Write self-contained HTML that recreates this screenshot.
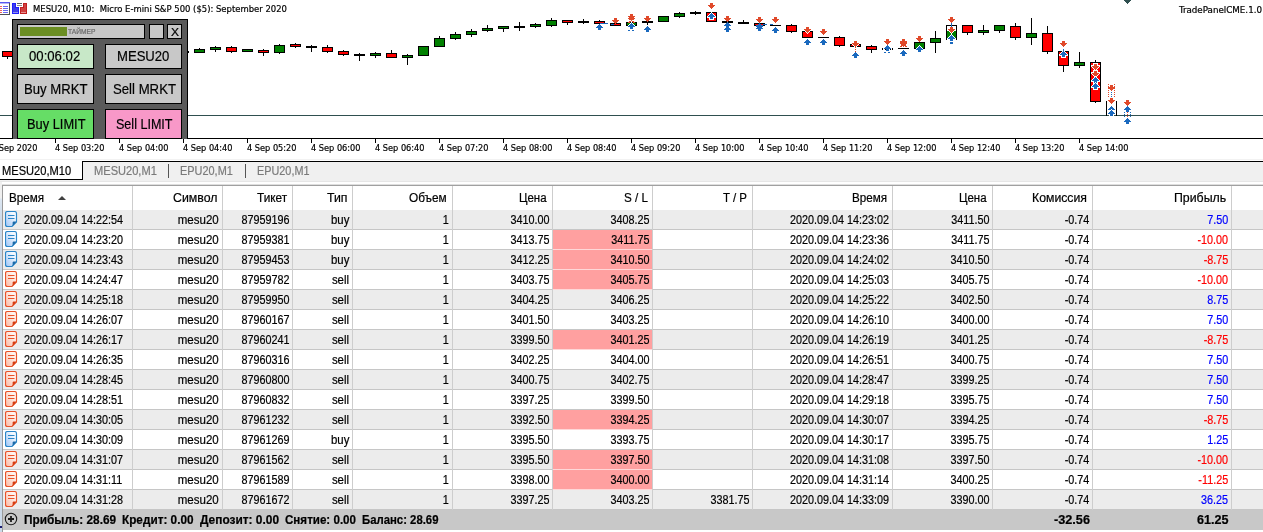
<!DOCTYPE html>
<html lang="ru"><head><meta charset="utf-8"><title>MESU20 M10</title><style>
html,body{margin:0;padding:0;background:#fff}
body{width:1263px;height:532px;position:relative;overflow:hidden;font-family:'Liberation Sans',sans-serif}
.chart{position:absolute;left:0;top:0}
.t{position:absolute;white-space:pre;transform-origin:0 50%}
.panel{position:absolute;left:12px;top:19px;width:174px;height:119px;background:#5a5a5a;border:1px solid #000;border-bottom:none;overflow:hidden}
.panel .b{position:absolute;border:1px solid #000}
.panel .bar{position:absolute;left:2px;top:2px;width:47px;height:9px;background:#6b8e23}
.tabs{position:absolute;left:0;top:159px;width:1263px;height:22px;background:#f0f0f0;border-top:1px solid #f2f2f2;box-sizing:border-box}
.tabs:before{content:"";position:absolute;left:0;top:0;width:1263px;height:1px;background:#fff}
.tabs:after{content:"";position:absolute;left:82px;top:1px;width:1181px;height:1px;background:#000}
.tabact{position:absolute;left:0;top:161px;width:82px;height:18px;background:#fff;border-right:1px solid #000;border-bottom:1px solid #000}
.sep{position:absolute;top:164px;width:1px;height:14px;background:#555}
.tbl{position:absolute;left:0;top:0;width:1263px;height:532px;pointer-events:none}
.tbl i.l1{position:absolute;left:0;top:181px;width:1263px;height:1px;background:#e6e6e6}
.tbl i.l2{position:absolute;left:2px;top:184px;width:1261px;height:1px;background:#dedede}
.tbl:before{content:"";position:absolute;left:2px;top:185px;width:1261px;height:1px;background:#a0a0a0}
.tbl:after{content:"";position:absolute;left:2px;top:185px;width:1px;height:347px;background:#9a9a9a}
.r{position:absolute;left:3px;width:1260px;height:19px;background:#fff;border-bottom:1px solid #c6c6c6}
.r.g{background:#ececec}
.pk{position:absolute;left:553px;width:99px;height:19px;background:#ffa0a0;border-bottom:1px solid #ffd8d8}
.cd{position:absolute;top:186px;width:1px;height:324px;background:#cdcdcd}
.sum{position:absolute;left:3px;top:510px;width:1260px;height:20px;background:#c8c8c8}
.c{position:absolute;white-space:pre;font:12px/20px 'Liberation Sans',sans-serif;transform-origin:100% 50%;-webkit-text-stroke:0.2px currentColor}
.c.l{transform-origin:0 50%}
.ico{position:absolute;left:5px}
.sort{position:absolute;left:58px;top:196px}
.plus{position:absolute;left:4px;top:512px}
.edge{position:absolute;left:0;top:181px;width:2px;height:351px;background:linear-gradient(#f0f0f0 0,#f0f0f0 17px,#dde7f2 18px,#ccdaea 40px,#ccdaea 100%)}
.edge:after{content:"";position:absolute;left:0;top:345px;width:2px;height:2px;background:#1a1a70}
</style></head><body>
<div class="edge"></div>
<svg class="chart" width="1263" height="160" viewBox="0 0 1263 160" shape-rendering="crispEdges"><rect x="0" y="115" width="1263" height="1" fill="#2f4f4f" /><rect x="7" y="51" width="1" height="8" fill="#000" /><rect x="2" y="51" width="11" height="6" fill="#000" /><rect x="3" y="52" width="9" height="4" fill="#ff0000" /><rect x="178" y="51" width="11" height="2" fill="#000" /><rect x="199" y="48" width="1" height="5" fill="#000" /><rect x="194" y="49" width="11" height="4" fill="#000" /><rect x="195" y="50" width="9" height="2" fill="#008000" /><rect x="215" y="46" width="1" height="6" fill="#000" /><rect x="210" y="47" width="11" height="3" fill="#000" /><rect x="211" y="48" width="9" height="1" fill="#008000" /><rect x="231" y="46" width="1" height="7" fill="#000" /><rect x="226" y="47" width="11" height="5" fill="#000" /><rect x="227" y="48" width="9" height="3" fill="#ff0000" /><rect x="242" y="49" width="11" height="3" fill="#000" /><rect x="243" y="50" width="9" height="1" fill="#008000" /><rect x="263" y="49" width="1" height="7" fill="#000" /><rect x="258" y="50" width="11" height="3" fill="#000" /><rect x="259" y="51" width="9" height="1" fill="#ff0000" /><rect x="279" y="44" width="1" height="10" fill="#000" /><rect x="274" y="45" width="11" height="8" fill="#000" /><rect x="275" y="46" width="9" height="6" fill="#008000" /><rect x="295" y="43" width="1" height="5" fill="#000" /><rect x="290" y="44" width="11" height="3" fill="#000" /><rect x="291" y="45" width="9" height="1" fill="#ff0000" /><rect x="311" y="45" width="1" height="7" fill="#000" /><rect x="306" y="46" width="11" height="2" fill="#000" /><rect x="327" y="45" width="1" height="8" fill="#000" /><rect x="322" y="47" width="11" height="5" fill="#000" /><rect x="323" y="48" width="9" height="3" fill="#ff0000" /><rect x="343" y="50" width="1" height="6" fill="#000" /><rect x="338" y="51" width="11" height="4" fill="#000" /><rect x="339" y="52" width="9" height="2" fill="#ff0000" /><rect x="359" y="53" width="1" height="8" fill="#000" /><rect x="354" y="54" width="11" height="2" fill="#000" /><rect x="375" y="52" width="1" height="6" fill="#000" /><rect x="370" y="53" width="11" height="3" fill="#000" /><rect x="371" y="54" width="9" height="1" fill="#008000" /><rect x="391" y="50" width="1" height="8" fill="#000" /><rect x="386" y="53" width="11" height="5" fill="#000" /><rect x="387" y="54" width="9" height="3" fill="#ff0000" /><rect x="407" y="54" width="1" height="11" fill="#000" /><rect x="402" y="55" width="11" height="3" fill="#000" /><rect x="403" y="56" width="9" height="1" fill="#008000" /><rect x="418" y="46" width="11" height="10" fill="#000" /><rect x="419" y="47" width="9" height="8" fill="#008000" /><rect x="439" y="36" width="1" height="11" fill="#000" /><rect x="434" y="38" width="11" height="9" fill="#000" /><rect x="435" y="39" width="9" height="7" fill="#008000" /><rect x="455" y="32" width="1" height="8" fill="#000" /><rect x="450" y="34" width="11" height="5" fill="#000" /><rect x="451" y="35" width="9" height="3" fill="#008000" /><rect x="471" y="29" width="1" height="8" fill="#000" /><rect x="466" y="31" width="11" height="4" fill="#000" /><rect x="467" y="32" width="9" height="2" fill="#008000" /><rect x="487" y="25" width="1" height="7" fill="#000" /><rect x="482" y="28" width="11" height="3" fill="#000" /><rect x="483" y="29" width="9" height="1" fill="#008000" /><rect x="503" y="26" width="1" height="6" fill="#000" /><rect x="498" y="26" width="11" height="3" fill="#000" /><rect x="499" y="27" width="9" height="1" fill="#008000" /><rect x="519" y="22" width="1" height="9" fill="#000" /><rect x="514" y="26" width="11" height="2" fill="#000" /><rect x="535" y="23" width="1" height="5" fill="#000" /><rect x="530" y="24" width="11" height="3" fill="#000" /><rect x="531" y="25" width="9" height="1" fill="#008000" /><rect x="551" y="18" width="1" height="9" fill="#000" /><rect x="546" y="20" width="11" height="6" fill="#000" /><rect x="547" y="21" width="9" height="4" fill="#008000" /><rect x="567" y="20" width="1" height="5" fill="#000" /><rect x="562" y="20" width="11" height="3" fill="#000" /><rect x="563" y="21" width="9" height="1" fill="#ff0000" /><rect x="583" y="19" width="1" height="5" fill="#000" /><rect x="578" y="21" width="11" height="2" fill="#000" /><rect x="599" y="20" width="1" height="4" fill="#000" /><rect x="594" y="21" width="11" height="3" fill="#000" /><rect x="595" y="22" width="9" height="1" fill="#ff0000" /><rect x="610" y="23" width="11" height="3" fill="#000" /><rect x="611" y="24" width="9" height="1" fill="#ff0000" /><rect x="626" y="22" width="11" height="4" fill="#000" /><rect x="627" y="23" width="9" height="2" fill="#008000" /><rect x="647" y="21" width="1" height="4" fill="#000" /><rect x="642" y="21" width="11" height="2" fill="#000" /><rect x="658" y="16" width="11" height="6" fill="#000" /><rect x="659" y="17" width="9" height="4" fill="#008000" /><rect x="679" y="12" width="1" height="6" fill="#000" /><rect x="674" y="13" width="11" height="4" fill="#000" /><rect x="675" y="14" width="9" height="2" fill="#008000" /><rect x="695" y="11" width="1" height="4" fill="#000" /><rect x="690" y="12" width="11" height="2" fill="#000" /><rect x="706" y="12" width="11" height="10" fill="#000" /><rect x="707" y="13" width="9" height="8" fill="#ff0000" /><rect x="722" y="21" width="11" height="2" fill="#000" /><rect x="743" y="20" width="1" height="4" fill="#000" /><rect x="738" y="22" width="11" height="2" fill="#000" /><rect x="754" y="23" width="11" height="3" fill="#000" /><rect x="755" y="24" width="9" height="1" fill="#ff0000" /><rect x="770" y="25" width="11" height="1" fill="#000" /><rect x="791" y="24" width="1" height="9" fill="#000" /><rect x="786" y="25" width="11" height="7" fill="#000" /><rect x="787" y="26" width="9" height="5" fill="#ff0000" /><rect x="802" y="31" width="11" height="7" fill="#000" /><rect x="803" y="32" width="9" height="5" fill="#ff0000" /><rect x="818" y="37" width="11" height="1" fill="#000" /><rect x="839" y="36" width="1" height="11" fill="#000" /><rect x="834" y="37" width="11" height="9" fill="#000" /><rect x="835" y="38" width="9" height="7" fill="#ff0000" /><rect x="850" y="44" width="11" height="3" fill="#000" /><rect x="851" y="45" width="9" height="1" fill="#ff0000" /><rect x="871" y="45" width="1" height="8" fill="#000" /><rect x="866" y="46" width="11" height="4" fill="#000" /><rect x="867" y="47" width="9" height="2" fill="#ff0000" /><rect x="898" y="48" width="11" height="1" fill="#000" /><rect x="914" y="42" width="11" height="7" fill="#000" /><rect x="915" y="43" width="9" height="5" fill="#008000" /><rect x="935" y="31" width="1" height="22" fill="#000" /><rect x="930" y="38" width="11" height="5" fill="#000" /><rect x="931" y="39" width="9" height="3" fill="#008000" /><rect x="946" y="25" width="11" height="15" fill="#000" /><rect x="947" y="26" width="9" height="13" fill="#008000" /><rect x="967" y="25" width="1" height="10" fill="#000" /><rect x="962" y="25" width="11" height="8" fill="#000" /><rect x="963" y="26" width="9" height="6" fill="#ff0000" /><rect x="983" y="25" width="1" height="10" fill="#000" /><rect x="978" y="30" width="11" height="3" fill="#000" /><rect x="979" y="31" width="9" height="1" fill="#008000" /><rect x="999" y="25" width="1" height="8" fill="#000" /><rect x="994" y="25" width="11" height="6" fill="#000" /><rect x="995" y="26" width="9" height="4" fill="#008000" /><rect x="1015" y="23" width="1" height="17" fill="#000" /><rect x="1010" y="26" width="11" height="12" fill="#000" /><rect x="1011" y="27" width="9" height="10" fill="#ff0000" /><rect x="1031" y="18" width="1" height="27" fill="#000" /><rect x="1026" y="33" width="11" height="5" fill="#000" /><rect x="1027" y="34" width="9" height="3" fill="#008000" /><rect x="1047" y="26" width="1" height="28" fill="#000" /><rect x="1042" y="33" width="11" height="19" fill="#000" /><rect x="1043" y="34" width="9" height="17" fill="#ff0000" /><rect x="1063" y="48" width="1" height="24" fill="#000" /><rect x="1058" y="51" width="11" height="15" fill="#000" /><rect x="1059" y="52" width="9" height="13" fill="#ff0000" /><rect x="1079" y="52" width="1" height="16" fill="#000" /><rect x="1074" y="62" width="11" height="4" fill="#000" /><rect x="1075" y="63" width="9" height="2" fill="#008000" /><rect x="1095" y="60" width="1" height="43" fill="#000" /><rect x="1090" y="62" width="11" height="40" fill="#000" /><rect x="1091" y="63" width="9" height="38" fill="#ff0000" /><rect x="882" y="48" width="1" height="2" fill="#000" /><rect x="885" y="48" width="2" height="2" fill="#000" /><rect x="890" y="48" width="1" height="2" fill="#000" /><rect x="892" y="48" width="1" height="2" fill="#000" /><rect x="1106" y="101" width="1" height="15" fill="#000" /><rect x="1116" y="101" width="1" height="15" fill="#000" /><rect x="947" y="26" width="9" height="5" fill="#fff" /><polygon points="599.5,24 603,28 601,28 601,30 598,30 598,28 596,28" fill="#1a69be"/><polygon points="614,18 617,18 617,20 619,20 615.5,24 612,20 614,20" fill="#e0492a"/><polygon points="630,14 633,14 633,16 635,16 631.5,20 628,16 630,16" fill="#e0492a"/><polygon points="631.5,23 635,27 633,27 633,29 630,29 630,27 628,27" fill="#1a69be" stroke="#fff" stroke-width="2" stroke-linejoin="round" paint-order="stroke"/><polygon points="646,16 649,16 649,18 651,18 647.5,22 644,18 646,18" fill="#e0492a"/><polygon points="647.5,26 651,30 649,30 649,32 646,32 646,30 644,30" fill="#1a69be"/><polygon points="710,3 713,3 713,5 715,5 711.5,9 708,5 710,5" fill="#e0492a"/><polygon points="711.5,13 715,17 713,17 713,19 710,19 710,17 708,17" fill="#1a69be" stroke="#fff" stroke-width="2" stroke-linejoin="round" paint-order="stroke"/><polygon points="726,16 729,16 729,18 731,18 727.5,22 724,18 726,18" fill="#e0492a"/><polygon points="727.5,22 731,26 729,26 729,28 726,28 726,26 724,26" fill="#1a69be"/><polygon points="727.5,26 731,30 729,30 729,32 726,32 726,30 724,30" fill="#1a69be"/><polygon points="758,17 761,17 761,19 763,19 759.5,23 756,19 758,19" fill="#e0492a"/><polygon points="759.5,23 763,27 761,27 761,29 758,29 758,27 756,27" fill="#1a69be"/><polygon points="759.5,25 763,29 761,29 761,31 758,31 758,29 756,29" fill="#1a69be"/><polygon points="774,17 777,17 777,19 779,19 775.5,23 772,19 774,19" fill="#e0492a"/><polygon points="775.5,27 779,31 777,31 777,33 774,33 774,31 772,31" fill="#1a69be"/><polygon points="806,27 809,27 809,29 811,29 807.5,33 804,29 806,29" fill="#e0492a" stroke="#fff" stroke-width="2" stroke-linejoin="round" paint-order="stroke"/><polygon points="807.5,39 811,43 809,43 809,45 806,45 806,43 804,43" fill="#1a69be"/><polygon points="822,29 825,29 825,31 827,31 823.5,35 820,31 822,31" fill="#e0492a"/><polygon points="823.5,39 827,43 825,43 825,45 822,45 822,43 820,43" fill="#1a69be"/><polygon points="854,41 857,41 857,43 859,43 855.5,47 852,43 854,43" fill="#e0492a" stroke="#fff" stroke-width="2" stroke-linejoin="round" paint-order="stroke"/><polygon points="855.5,52 859,56 857,56 857,58 854,58 854,56 852,56" fill="#1a69be"/><polygon points="886,39 889,39 889,41 891,41 887.5,45 884,41 886,41" fill="#e0492a"/><polygon points="887.5,45 891,49 889,49 889,51 886,51 886,49 884,49" fill="#1a69be"/><polygon points="902,39 905,39 905,41 907,41 903.5,45 900,41 902,41" fill="#e0492a"/><polygon points="902,41 905,41 905,43 907,43 903.5,47 900,43 902,43" fill="#e0492a"/><polygon points="903.5,50 907,54 905,54 905,56 902,56 902,54 900,54" fill="#1a69be"/><polygon points="918,36 921,36 921,38 923,38 919.5,42 916,38 918,38" fill="#e0492a"/><polygon points="919.5,46 923,50 921,50 921,52 918,52 918,50 916,50" fill="#1a69be" stroke="#fff" stroke-width="2" stroke-linejoin="round" paint-order="stroke"/><polygon points="950,17 953,17 953,19 955,19 951.5,23 948,19 950,19" fill="#e0492a"/><polygon points="950,27 953,27 953,29 955,29 951.5,33 948,29 950,29" fill="#e0492a" stroke="#fff" stroke-width="2" stroke-linejoin="round" paint-order="stroke"/><polygon points="951.5,35 955,39 953,39 953,41 950,41 950,39 948,39" fill="#1a69be" stroke="#fff" stroke-width="2" stroke-linejoin="round" paint-order="stroke"/><polygon points="1062,41 1065,41 1065,43 1067,43 1063.5,47 1060,43 1062,43" fill="#e0492a"/><polygon points="1063.5,51 1067,55 1065,55 1065,57 1062,57 1062,55 1060,55" fill="#1a69be" stroke="#fff" stroke-width="2" stroke-linejoin="round" paint-order="stroke"/><polygon points="1094,64 1097,64 1097,66 1099,66 1095.5,70 1092,66 1094,66" fill="#e0492a" stroke="#fff" stroke-width="2" stroke-linejoin="round" paint-order="stroke"/><polygon points="1094,71 1097,71 1097,73 1099,73 1095.5,77 1092,73 1094,73" fill="#e0492a" stroke="#fff" stroke-width="2" stroke-linejoin="round" paint-order="stroke"/><polygon points="1095.5,77 1099,81 1097,81 1097,83 1094,83 1094,81 1092,81" fill="#1a69be" stroke="#fff" stroke-width="2" stroke-linejoin="round" paint-order="stroke"/><polygon points="1095.5,83 1099,87 1097,87 1097,89 1094,89 1094,87 1092,87" fill="#1a69be" stroke="#fff" stroke-width="2" stroke-linejoin="round" paint-order="stroke"/><polygon points="1110,85 1113,85 1113,87 1115,87 1111.5,91 1108,87 1110,87" fill="#e0492a"/><polygon points="1110,98 1113,98 1113,100 1115,100 1111.5,104 1108,100 1110,100" fill="#e0492a" stroke="#fff" stroke-width="2" stroke-linejoin="round" paint-order="stroke"/><polygon points="1111.5,106 1115,110 1113,110 1113,112 1110,112 1110,110 1108,110" fill="#1a69be" stroke="#fff" stroke-width="2" stroke-linejoin="round" paint-order="stroke"/><polygon points="1111.5,110 1115,114 1113,114 1113,116 1110,116 1110,114 1108,114" fill="#1a69be" stroke="#fff" stroke-width="2" stroke-linejoin="round" paint-order="stroke"/><polygon points="1126,100 1129,100 1129,102 1131,102 1127.5,106 1124,102 1126,102" fill="#e0492a"/><polygon points="1127.5,106 1131,110 1129,110 1129,112 1126,112 1126,110 1124,110" fill="#1a69be"/><polygon points="1127.5,118 1131,122 1129,122 1129,124 1126,124 1126,122 1124,122" fill="#1a69be"/><rect x="194" y="49" width="1" height="4" fill="#000" /><rect x="204" y="49" width="1" height="4" fill="#000" /><rect x="210" y="47" width="1" height="3" fill="#000" /><rect x="220" y="47" width="1" height="3" fill="#000" /><rect x="226" y="47" width="1" height="5" fill="#000" /><rect x="236" y="47" width="1" height="5" fill="#000" /><rect x="242" y="49" width="1" height="3" fill="#000" /><rect x="252" y="49" width="1" height="3" fill="#000" /><rect x="258" y="50" width="1" height="3" fill="#000" /><rect x="268" y="50" width="1" height="3" fill="#000" /><rect x="274" y="45" width="1" height="8" fill="#000" /><rect x="284" y="45" width="1" height="8" fill="#000" /><rect x="290" y="44" width="1" height="3" fill="#000" /><rect x="300" y="44" width="1" height="3" fill="#000" /><rect x="322" y="47" width="1" height="5" fill="#000" /><rect x="332" y="47" width="1" height="5" fill="#000" /><rect x="338" y="51" width="1" height="4" fill="#000" /><rect x="348" y="51" width="1" height="4" fill="#000" /><rect x="370" y="53" width="1" height="3" fill="#000" /><rect x="380" y="53" width="1" height="3" fill="#000" /><rect x="386" y="53" width="1" height="5" fill="#000" /><rect x="396" y="53" width="1" height="5" fill="#000" /><rect x="402" y="55" width="1" height="3" fill="#000" /><rect x="412" y="55" width="1" height="3" fill="#000" /><rect x="418" y="46" width="1" height="10" fill="#000" /><rect x="428" y="46" width="1" height="10" fill="#000" /><rect x="434" y="38" width="1" height="9" fill="#000" /><rect x="444" y="38" width="1" height="9" fill="#000" /><rect x="450" y="34" width="1" height="5" fill="#000" /><rect x="460" y="34" width="1" height="5" fill="#000" /><rect x="466" y="31" width="1" height="4" fill="#000" /><rect x="476" y="31" width="1" height="4" fill="#000" /><rect x="482" y="28" width="1" height="3" fill="#000" /><rect x="492" y="28" width="1" height="3" fill="#000" /><rect x="498" y="26" width="1" height="3" fill="#000" /><rect x="508" y="26" width="1" height="3" fill="#000" /><rect x="530" y="24" width="1" height="3" fill="#000" /><rect x="540" y="24" width="1" height="3" fill="#000" /><rect x="546" y="20" width="1" height="6" fill="#000" /><rect x="556" y="20" width="1" height="6" fill="#000" /><rect x="562" y="20" width="1" height="3" fill="#000" /><rect x="572" y="20" width="1" height="3" fill="#000" /><rect x="594" y="21" width="1" height="3" fill="#000" /><rect x="604" y="21" width="1" height="3" fill="#000" /><rect x="610" y="23" width="1" height="3" fill="#000" /><rect x="620" y="23" width="1" height="3" fill="#000" /><rect x="626" y="22" width="1" height="4" fill="#000" /><rect x="636" y="22" width="1" height="4" fill="#000" /><rect x="658" y="16" width="1" height="6" fill="#000" /><rect x="668" y="16" width="1" height="6" fill="#000" /><rect x="674" y="13" width="1" height="4" fill="#000" /><rect x="684" y="13" width="1" height="4" fill="#000" /><rect x="706" y="12" width="1" height="10" fill="#000" /><rect x="716" y="12" width="1" height="10" fill="#000" /><rect x="754" y="23" width="1" height="3" fill="#000" /><rect x="764" y="23" width="1" height="3" fill="#000" /><rect x="786" y="25" width="1" height="7" fill="#000" /><rect x="796" y="25" width="1" height="7" fill="#000" /><rect x="802" y="31" width="1" height="7" fill="#000" /><rect x="812" y="31" width="1" height="7" fill="#000" /><rect x="834" y="37" width="1" height="9" fill="#000" /><rect x="844" y="37" width="1" height="9" fill="#000" /><rect x="850" y="44" width="1" height="3" fill="#000" /><rect x="860" y="44" width="1" height="3" fill="#000" /><rect x="866" y="46" width="1" height="4" fill="#000" /><rect x="876" y="46" width="1" height="4" fill="#000" /><rect x="914" y="42" width="1" height="7" fill="#000" /><rect x="924" y="42" width="1" height="7" fill="#000" /><rect x="930" y="38" width="1" height="5" fill="#000" /><rect x="940" y="38" width="1" height="5" fill="#000" /><rect x="946" y="25" width="1" height="15" fill="#000" /><rect x="956" y="25" width="1" height="15" fill="#000" /><rect x="962" y="25" width="1" height="8" fill="#000" /><rect x="972" y="25" width="1" height="8" fill="#000" /><rect x="978" y="30" width="1" height="3" fill="#000" /><rect x="988" y="30" width="1" height="3" fill="#000" /><rect x="994" y="25" width="1" height="6" fill="#000" /><rect x="1004" y="25" width="1" height="6" fill="#000" /><rect x="1010" y="26" width="1" height="12" fill="#000" /><rect x="1020" y="26" width="1" height="12" fill="#000" /><rect x="1026" y="33" width="1" height="5" fill="#000" /><rect x="1036" y="33" width="1" height="5" fill="#000" /><rect x="1042" y="33" width="1" height="19" fill="#000" /><rect x="1052" y="33" width="1" height="19" fill="#000" /><rect x="1058" y="51" width="1" height="15" fill="#000" /><rect x="1068" y="51" width="1" height="15" fill="#000" /><rect x="1074" y="62" width="1" height="4" fill="#000" /><rect x="1084" y="62" width="1" height="4" fill="#000" /><rect x="1090" y="62" width="1" height="40" fill="#000" /><rect x="1100" y="62" width="1" height="40" fill="#000" /><rect x="1106" y="101" width="1" height="15" fill="#000" /><rect x="1116" y="101" width="1" height="15" fill="#000" /><rect x="946" y="25" width="11" height="1" fill="#000" /><rect x="951" y="23" width="1" height="4" fill="#1a69be" /><rect x="1063" y="48" width="1" height="1" fill="#fff" /><rect x="1063" y="49" width="1" height="2" fill="#1a69be" /><rect x="855" y="47" width="1" height="1" fill="#e0492a" /><rect x="855" y="49" width="1" height="1" fill="#e0492a" /><rect x="855" y="51" width="1" height="1" fill="#e0492a" /><rect x="1108" y="84" width="1" height="1" fill="#e0492a" /><rect x="1108" y="86" width="1" height="1" fill="#e0492a" /><rect x="1108" y="88" width="1" height="1" fill="#e0492a" /><rect x="1108" y="90" width="1" height="1" fill="#e0492a" /><rect x="1108" y="92" width="1" height="1" fill="#e0492a" /><rect x="1108" y="94" width="1" height="1" fill="#e0492a" /><rect x="1108" y="96" width="1" height="1" fill="#e0492a" /><rect x="1114" y="84" width="1" height="1" fill="#e0492a" /><rect x="1114" y="86" width="1" height="1" fill="#e0492a" /><rect x="1114" y="88" width="1" height="1" fill="#e0492a" /><rect x="1114" y="90" width="1" height="1" fill="#e0492a" /><rect x="1114" y="92" width="1" height="1" fill="#e0492a" /><rect x="1114" y="94" width="1" height="1" fill="#e0492a" /><rect x="1114" y="96" width="1" height="1" fill="#e0492a" /><rect x="1111" y="92" width="1" height="1" fill="#1a69be" /><rect x="1111" y="94" width="1" height="1" fill="#1a69be" /><rect x="1111" y="96" width="1" height="1" fill="#1a69be" /><rect x="1124" y="112" width="1" height="1" fill="#1a69be" /><rect x="1124" y="114" width="1" height="1" fill="#1a69be" /><rect x="1124" y="116" width="1" height="1" fill="#1a69be" /><rect x="1130" y="112" width="1" height="1" fill="#1a69be" /><rect x="1130" y="114" width="1" height="1" fill="#1a69be" /><rect x="1130" y="116" width="1" height="1" fill="#1a69be" /><rect x="1127" y="112" width="1" height="1" fill="#e0492a" /><rect x="1127" y="114" width="1" height="1" fill="#e0492a" /><rect x="1127" y="116" width="1" height="1" fill="#e0492a" /><rect x="628" y="30" width="2" height="1" fill="#1a69be" /><rect x="632" y="30" width="2" height="1" fill="#1a69be" /><rect x="884" y="52" width="2" height="1" fill="#1a69be" /><rect x="888" y="52" width="2" height="1" fill="#1a69be" /><rect x="950" y="42" width="3" height="2" fill="#1a69be" /><rect x="600" y="23" width="8" height="1" fill="#1a69be" /><rect x="763" y="24" width="4" height="1" fill="#1a69be" /><rect x="770" y="24" width="3" height="1" fill="#1a69be" /><rect x="611" y="24" width="3" height="1" fill="#1a69be" /><path d="M628 18L635 23M635 18L628 23" stroke="#e0492a" stroke-width="1" fill="none"/><path d="M756 25L763 29M763 25L756 29" stroke="#1a69be" stroke-width="1" fill="none"/><path d="M900 42L907 47M907 42L900 47" stroke="#e0492a" stroke-width="1" fill="none"/><rect x="0" y="138" width="1263" height="1" fill="#000" /><rect x="55" y="139" width="1" height="4" fill="#000" /><rect x="119" y="139" width="1" height="4" fill="#000" /><rect x="183" y="139" width="1" height="4" fill="#000" /><rect x="247" y="139" width="1" height="4" fill="#000" /><rect x="311" y="139" width="1" height="4" fill="#000" /><rect x="375" y="139" width="1" height="4" fill="#000" /><rect x="439" y="139" width="1" height="4" fill="#000" /><rect x="503" y="139" width="1" height="4" fill="#000" /><rect x="567" y="139" width="1" height="4" fill="#000" /><rect x="631" y="139" width="1" height="4" fill="#000" /><rect x="695" y="139" width="1" height="4" fill="#000" /><rect x="759" y="139" width="1" height="4" fill="#000" /><rect x="823" y="139" width="1" height="4" fill="#000" /><rect x="887" y="139" width="1" height="4" fill="#000" /><rect x="951" y="139" width="1" height="4" fill="#000" /><rect x="1015" y="139" width="1" height="4" fill="#000" /><rect x="1079" y="139" width="1" height="4" fill="#000" /><polygon points="1123.5,0 1131.5,0 1127.5,4" fill="#2f4f4f"/><rect x="0" y="2" width="10" height="13" fill="#fff"/><rect x="0" y="2" width="10" height="1" fill="#5858f0"/><rect x="0" y="3" width="9" height="1" fill="#b8b8f8"/><rect x="9" y="3" width="1" height="12" fill="#505050"/><rect x="0" y="14" width="10" height="1" fill="#505050"/><rect x="0" y="6" width="2" height="1" fill="#f06060"/><rect x="3" y="6" width="5" height="1" fill="#6868f0"/><rect x="0" y="8" width="2" height="1" fill="#f06060"/><rect x="3" y="8" width="5" height="1" fill="#6868f0"/><rect x="0" y="10" width="2" height="1" fill="#f06060"/><rect x="3" y="10" width="5" height="1" fill="#6868f0"/><rect x="0" y="12" width="2" height="1" fill="#f06060"/><rect x="3" y="12" width="5" height="1" fill="#6868f0"/><path d="M12.5 4.5Q12.5 3.5 13.5 3.5L14.5 3.5Q15.5 3.5 15.5 4.5L15.5 7.5L17.5 7.5Q18.5 7.5 18.5 8.5L18.5 12.5Q18.5 13.5 17.5 13.5L13.5 13.5Q12.5 13.5 12.5 12.5Z" fill="#4040e8" stroke="#2020ff" stroke-width="1"/><rect x="13" y="12" width="5" height="1" fill="#9090f0"/><path d="M26.5 4.5Q26.5 3.5 25.5 3.5L24.5 3.5Q23.5 3.5 23.5 4.5L23.5 7.5L21.5 7.5Q20.5 7.5 20.5 8.5L20.5 12.5Q20.5 13.5 21.5 13.5L25.5 13.5Q26.5 13.5 26.5 12.5Z" fill="#d04040" stroke="#c02020" stroke-width="1"/><rect x="21" y="12" width="5" height="1" fill="#e89090"/><rect x="17" y="3" width="5" height="1" fill="#606060"/><rect x="17" y="5" width="5" height="1" fill="#909090"/></svg>
<div class="panel"><div class="b" style="left:4px;top:4px;width:126px;height:13px;background:#c8c8c8"><i class="bar"></i></div><div class="b" style="left:136px;top:4px;width:13px;height:13px;background:#c8c8c8"></div><div class="b" style="left:154px;top:4px;width:13px;height:13px;background:#c8c8c8"></div><div class="b" style="left:4px;top:24px;width:75px;height:23px;background:#c8e8c8"></div><div class="b" style="left:92px;top:24px;width:75px;height:23px;background:#c8c8c8"></div><div class="b" style="left:4px;top:54px;width:75px;height:28px;background:#c8c8c8"></div><div class="b" style="left:92px;top:54px;width:75px;height:28px;background:#c8c8c8"></div><div class="b" style="left:4px;top:89px;width:75px;height:28px;background:#66dd66"></div><div class="b" style="left:92px;top:89px;width:75px;height:28px;background:#f898c8"></div></div>
<div class="tabs"></div><div class="tabact"></div><i class="sep" style="left:168px"></i><i class="sep" style="left:245px"></i>
<div class="tbl"><i class="l1"></i><i class="l2"></i><div class="r g" style="top:210px"></div><div class="r" style="top:230px"></div><div class="pk" style="top:230px"></div><div class="r g" style="top:250px"></div><div class="pk" style="top:250px"></div><div class="r" style="top:270px"></div><div class="pk" style="top:270px"></div><div class="r g" style="top:290px"></div><div class="r" style="top:310px"></div><div class="r g" style="top:330px"></div><div class="pk" style="top:330px"></div><div class="r" style="top:350px"></div><div class="r g" style="top:370px"></div><div class="r" style="top:390px"></div><div class="r g" style="top:410px"></div><div class="pk" style="top:410px"></div><div class="r" style="top:430px"></div><div class="r g" style="top:450px"></div><div class="pk" style="top:450px"></div><div class="r" style="top:470px"></div><div class="pk" style="top:470px"></div><div class="r g" style="top:490px"></div><i class="cd" style="left:132px"></i><i class="cd" style="left:222px"></i><i class="cd" style="left:292px"></i><i class="cd" style="left:352px"></i><i class="cd" style="left:452px"></i><i class="cd" style="left:552px"></i><i class="cd" style="left:652px"></i><i class="cd" style="left:752px"></i><i class="cd" style="left:892px"></i><i class="cd" style="left:992px"></i><i class="cd" style="left:1092px"></i><i class="cd" style="left:1231px"></i><div class="sum"></div></div>
<svg width="0" height="0" style="position:absolute"><defs><linearGradient id="gb" x1="1" y1="0" x2="0" y2="1"><stop offset="0.25" stop-color="#f4f9ff"/><stop offset="1" stop-color="#9cc4f6"/></linearGradient><linearGradient id="gs" x1="1" y1="0" x2="0" y2="1"><stop offset="0.25" stop-color="#fff4ef"/><stop offset="1" stop-color="#fbb8a2"/></linearGradient></defs></svg>
<svg class="ico" style="top:211px" width="13" height="17" viewBox="0 0 13 17"><path d="M2.5 0.5H9.5Q11.5 0.5 11.5 2.5V11L7 15.5H2.5Q0.5 15.5 0.5 13.5V2.5Q0.5 0.5 2.5 0.5Z" fill="url(#gb)" stroke="#2a86c8" stroke-width="1.15"/><path d="M11.6 10.6H8.8Q7.6 10.6 7.6 11.8V15.2Z" fill="#1a6aaa"/><path d="M3 4.5H9.5M3 7.5H9.5" stroke="#2a86c8" stroke-width="1"/></svg>
<span class="c l" style="left:24px;top:210px;color:#000;font-weight:normal;transform:scaleX(0.899)">2020.09.04 14:22:54</span>
<span class="c" style="right:1044px;top:210px;color:#000;font-weight:normal;transform:scaleX(0.96)">mesu20</span>
<span class="c" style="right:973.5px;top:210px;color:#000;font-weight:normal;transform:scaleX(0.899)">87959196</span>
<span class="c" style="right:914px;top:210px;color:#000;font-weight:normal;transform:scaleX(0.95)">buy</span>
<span class="c" style="right:814.4px;top:210px;color:#000;font-weight:normal;transform:scaleX(0.899)">1</span>
<span class="c" style="right:713.7px;top:210px;color:#000;font-weight:normal;transform:scaleX(0.899)">3410.00</span>
<span class="c" style="right:613.7px;top:210px;color:#000;font-weight:normal;transform:scaleX(0.899)">3408.25</span>
<span class="c" style="right:373.70000000000005px;top:210px;color:#000;font-weight:normal;transform:scaleX(0.899)">2020.09.04 14:23:02</span>
<span class="c" style="right:273.70000000000005px;top:210px;color:#000;font-weight:normal;transform:scaleX(0.899)">3411.50</span>
<span class="c" style="right:173.70000000000005px;top:210px;color:#000;font-weight:normal;transform:scaleX(0.899)">-0.74</span>
<span class="c" style="right:34.700000000000045px;top:210px;color:#0000ff;font-weight:normal;transform:scaleX(0.899)">7.50</span>
<svg class="ico" style="top:231px" width="13" height="17" viewBox="0 0 13 17"><path d="M2.5 0.5H9.5Q11.5 0.5 11.5 2.5V11L7 15.5H2.5Q0.5 15.5 0.5 13.5V2.5Q0.5 0.5 2.5 0.5Z" fill="url(#gb)" stroke="#2a86c8" stroke-width="1.15"/><path d="M11.6 10.6H8.8Q7.6 10.6 7.6 11.8V15.2Z" fill="#1a6aaa"/><path d="M3 4.5H9.5M3 7.5H9.5" stroke="#2a86c8" stroke-width="1"/></svg>
<span class="c l" style="left:24px;top:230px;color:#000;font-weight:normal;transform:scaleX(0.899)">2020.09.04 14:23:20</span>
<span class="c" style="right:1044px;top:230px;color:#000;font-weight:normal;transform:scaleX(0.96)">mesu20</span>
<span class="c" style="right:973.5px;top:230px;color:#000;font-weight:normal;transform:scaleX(0.899)">87959381</span>
<span class="c" style="right:914px;top:230px;color:#000;font-weight:normal;transform:scaleX(0.95)">buy</span>
<span class="c" style="right:814.4px;top:230px;color:#000;font-weight:normal;transform:scaleX(0.899)">1</span>
<span class="c" style="right:713.7px;top:230px;color:#000;font-weight:normal;transform:scaleX(0.899)">3413.75</span>
<span class="c" style="right:613.7px;top:230px;color:#000;font-weight:normal;transform:scaleX(0.899)">3411.75</span>
<span class="c" style="right:373.70000000000005px;top:230px;color:#000;font-weight:normal;transform:scaleX(0.899)">2020.09.04 14:23:36</span>
<span class="c" style="right:273.70000000000005px;top:230px;color:#000;font-weight:normal;transform:scaleX(0.899)">3411.75</span>
<span class="c" style="right:173.70000000000005px;top:230px;color:#000;font-weight:normal;transform:scaleX(0.899)">-0.74</span>
<span class="c" style="right:34.700000000000045px;top:230px;color:#ff0000;font-weight:normal;transform:scaleX(0.899)">-10.00</span>
<svg class="ico" style="top:251px" width="13" height="17" viewBox="0 0 13 17"><path d="M2.5 0.5H9.5Q11.5 0.5 11.5 2.5V11L7 15.5H2.5Q0.5 15.5 0.5 13.5V2.5Q0.5 0.5 2.5 0.5Z" fill="url(#gb)" stroke="#2a86c8" stroke-width="1.15"/><path d="M11.6 10.6H8.8Q7.6 10.6 7.6 11.8V15.2Z" fill="#1a6aaa"/><path d="M3 4.5H9.5M3 7.5H9.5" stroke="#2a86c8" stroke-width="1"/></svg>
<span class="c l" style="left:24px;top:250px;color:#000;font-weight:normal;transform:scaleX(0.899)">2020.09.04 14:23:43</span>
<span class="c" style="right:1044px;top:250px;color:#000;font-weight:normal;transform:scaleX(0.96)">mesu20</span>
<span class="c" style="right:973.5px;top:250px;color:#000;font-weight:normal;transform:scaleX(0.899)">87959453</span>
<span class="c" style="right:914px;top:250px;color:#000;font-weight:normal;transform:scaleX(0.95)">buy</span>
<span class="c" style="right:814.4px;top:250px;color:#000;font-weight:normal;transform:scaleX(0.899)">1</span>
<span class="c" style="right:713.7px;top:250px;color:#000;font-weight:normal;transform:scaleX(0.899)">3412.25</span>
<span class="c" style="right:613.7px;top:250px;color:#000;font-weight:normal;transform:scaleX(0.899)">3410.50</span>
<span class="c" style="right:373.70000000000005px;top:250px;color:#000;font-weight:normal;transform:scaleX(0.899)">2020.09.04 14:24:02</span>
<span class="c" style="right:273.70000000000005px;top:250px;color:#000;font-weight:normal;transform:scaleX(0.899)">3410.50</span>
<span class="c" style="right:173.70000000000005px;top:250px;color:#000;font-weight:normal;transform:scaleX(0.899)">-0.74</span>
<span class="c" style="right:34.700000000000045px;top:250px;color:#ff0000;font-weight:normal;transform:scaleX(0.899)">-8.75</span>
<svg class="ico" style="top:271px" width="13" height="17" viewBox="0 0 13 17"><path d="M2.5 0.5H9.5Q11.5 0.5 11.5 2.5V11L7 15.5H2.5Q0.5 15.5 0.5 13.5V2.5Q0.5 0.5 2.5 0.5Z" fill="url(#gs)" stroke="#e8532a" stroke-width="1.15"/><path d="M11.6 10.6H8.8Q7.6 10.6 7.6 11.8V15.2Z" fill="#d63c10"/><path d="M3 4.5H9.5M3 7.5H9.5" stroke="#e8532a" stroke-width="1"/></svg>
<span class="c l" style="left:24px;top:270px;color:#000;font-weight:normal;transform:scaleX(0.899)">2020.09.04 14:24:47</span>
<span class="c" style="right:1044px;top:270px;color:#000;font-weight:normal;transform:scaleX(0.96)">mesu20</span>
<span class="c" style="right:973.5px;top:270px;color:#000;font-weight:normal;transform:scaleX(0.899)">87959782</span>
<span class="c" style="right:914px;top:270px;color:#000;font-weight:normal;transform:scaleX(0.95)">sell</span>
<span class="c" style="right:814.4px;top:270px;color:#000;font-weight:normal;transform:scaleX(0.899)">1</span>
<span class="c" style="right:713.7px;top:270px;color:#000;font-weight:normal;transform:scaleX(0.899)">3403.75</span>
<span class="c" style="right:613.7px;top:270px;color:#000;font-weight:normal;transform:scaleX(0.899)">3405.75</span>
<span class="c" style="right:373.70000000000005px;top:270px;color:#000;font-weight:normal;transform:scaleX(0.899)">2020.09.04 14:25:03</span>
<span class="c" style="right:273.70000000000005px;top:270px;color:#000;font-weight:normal;transform:scaleX(0.899)">3405.75</span>
<span class="c" style="right:173.70000000000005px;top:270px;color:#000;font-weight:normal;transform:scaleX(0.899)">-0.74</span>
<span class="c" style="right:34.700000000000045px;top:270px;color:#ff0000;font-weight:normal;transform:scaleX(0.899)">-10.00</span>
<svg class="ico" style="top:291px" width="13" height="17" viewBox="0 0 13 17"><path d="M2.5 0.5H9.5Q11.5 0.5 11.5 2.5V11L7 15.5H2.5Q0.5 15.5 0.5 13.5V2.5Q0.5 0.5 2.5 0.5Z" fill="url(#gs)" stroke="#e8532a" stroke-width="1.15"/><path d="M11.6 10.6H8.8Q7.6 10.6 7.6 11.8V15.2Z" fill="#d63c10"/><path d="M3 4.5H9.5M3 7.5H9.5" stroke="#e8532a" stroke-width="1"/></svg>
<span class="c l" style="left:24px;top:290px;color:#000;font-weight:normal;transform:scaleX(0.899)">2020.09.04 14:25:18</span>
<span class="c" style="right:1044px;top:290px;color:#000;font-weight:normal;transform:scaleX(0.96)">mesu20</span>
<span class="c" style="right:973.5px;top:290px;color:#000;font-weight:normal;transform:scaleX(0.899)">87959950</span>
<span class="c" style="right:914px;top:290px;color:#000;font-weight:normal;transform:scaleX(0.95)">sell</span>
<span class="c" style="right:814.4px;top:290px;color:#000;font-weight:normal;transform:scaleX(0.899)">1</span>
<span class="c" style="right:713.7px;top:290px;color:#000;font-weight:normal;transform:scaleX(0.899)">3404.25</span>
<span class="c" style="right:613.7px;top:290px;color:#000;font-weight:normal;transform:scaleX(0.899)">3406.25</span>
<span class="c" style="right:373.70000000000005px;top:290px;color:#000;font-weight:normal;transform:scaleX(0.899)">2020.09.04 14:25:22</span>
<span class="c" style="right:273.70000000000005px;top:290px;color:#000;font-weight:normal;transform:scaleX(0.899)">3402.50</span>
<span class="c" style="right:173.70000000000005px;top:290px;color:#000;font-weight:normal;transform:scaleX(0.899)">-0.74</span>
<span class="c" style="right:34.700000000000045px;top:290px;color:#0000ff;font-weight:normal;transform:scaleX(0.899)">8.75</span>
<svg class="ico" style="top:311px" width="13" height="17" viewBox="0 0 13 17"><path d="M2.5 0.5H9.5Q11.5 0.5 11.5 2.5V11L7 15.5H2.5Q0.5 15.5 0.5 13.5V2.5Q0.5 0.5 2.5 0.5Z" fill="url(#gs)" stroke="#e8532a" stroke-width="1.15"/><path d="M11.6 10.6H8.8Q7.6 10.6 7.6 11.8V15.2Z" fill="#d63c10"/><path d="M3 4.5H9.5M3 7.5H9.5" stroke="#e8532a" stroke-width="1"/></svg>
<span class="c l" style="left:24px;top:310px;color:#000;font-weight:normal;transform:scaleX(0.899)">2020.09.04 14:26:07</span>
<span class="c" style="right:1044px;top:310px;color:#000;font-weight:normal;transform:scaleX(0.96)">mesu20</span>
<span class="c" style="right:973.5px;top:310px;color:#000;font-weight:normal;transform:scaleX(0.899)">87960167</span>
<span class="c" style="right:914px;top:310px;color:#000;font-weight:normal;transform:scaleX(0.95)">sell</span>
<span class="c" style="right:814.4px;top:310px;color:#000;font-weight:normal;transform:scaleX(0.899)">1</span>
<span class="c" style="right:713.7px;top:310px;color:#000;font-weight:normal;transform:scaleX(0.899)">3401.50</span>
<span class="c" style="right:613.7px;top:310px;color:#000;font-weight:normal;transform:scaleX(0.899)">3403.25</span>
<span class="c" style="right:373.70000000000005px;top:310px;color:#000;font-weight:normal;transform:scaleX(0.899)">2020.09.04 14:26:10</span>
<span class="c" style="right:273.70000000000005px;top:310px;color:#000;font-weight:normal;transform:scaleX(0.899)">3400.00</span>
<span class="c" style="right:173.70000000000005px;top:310px;color:#000;font-weight:normal;transform:scaleX(0.899)">-0.74</span>
<span class="c" style="right:34.700000000000045px;top:310px;color:#0000ff;font-weight:normal;transform:scaleX(0.899)">7.50</span>
<svg class="ico" style="top:331px" width="13" height="17" viewBox="0 0 13 17"><path d="M2.5 0.5H9.5Q11.5 0.5 11.5 2.5V11L7 15.5H2.5Q0.5 15.5 0.5 13.5V2.5Q0.5 0.5 2.5 0.5Z" fill="url(#gs)" stroke="#e8532a" stroke-width="1.15"/><path d="M11.6 10.6H8.8Q7.6 10.6 7.6 11.8V15.2Z" fill="#d63c10"/><path d="M3 4.5H9.5M3 7.5H9.5" stroke="#e8532a" stroke-width="1"/></svg>
<span class="c l" style="left:24px;top:330px;color:#000;font-weight:normal;transform:scaleX(0.899)">2020.09.04 14:26:17</span>
<span class="c" style="right:1044px;top:330px;color:#000;font-weight:normal;transform:scaleX(0.96)">mesu20</span>
<span class="c" style="right:973.5px;top:330px;color:#000;font-weight:normal;transform:scaleX(0.899)">87960241</span>
<span class="c" style="right:914px;top:330px;color:#000;font-weight:normal;transform:scaleX(0.95)">sell</span>
<span class="c" style="right:814.4px;top:330px;color:#000;font-weight:normal;transform:scaleX(0.899)">1</span>
<span class="c" style="right:713.7px;top:330px;color:#000;font-weight:normal;transform:scaleX(0.899)">3399.50</span>
<span class="c" style="right:613.7px;top:330px;color:#000;font-weight:normal;transform:scaleX(0.899)">3401.25</span>
<span class="c" style="right:373.70000000000005px;top:330px;color:#000;font-weight:normal;transform:scaleX(0.899)">2020.09.04 14:26:19</span>
<span class="c" style="right:273.70000000000005px;top:330px;color:#000;font-weight:normal;transform:scaleX(0.899)">3401.25</span>
<span class="c" style="right:173.70000000000005px;top:330px;color:#000;font-weight:normal;transform:scaleX(0.899)">-0.74</span>
<span class="c" style="right:34.700000000000045px;top:330px;color:#ff0000;font-weight:normal;transform:scaleX(0.899)">-8.75</span>
<svg class="ico" style="top:351px" width="13" height="17" viewBox="0 0 13 17"><path d="M2.5 0.5H9.5Q11.5 0.5 11.5 2.5V11L7 15.5H2.5Q0.5 15.5 0.5 13.5V2.5Q0.5 0.5 2.5 0.5Z" fill="url(#gs)" stroke="#e8532a" stroke-width="1.15"/><path d="M11.6 10.6H8.8Q7.6 10.6 7.6 11.8V15.2Z" fill="#d63c10"/><path d="M3 4.5H9.5M3 7.5H9.5" stroke="#e8532a" stroke-width="1"/></svg>
<span class="c l" style="left:24px;top:350px;color:#000;font-weight:normal;transform:scaleX(0.899)">2020.09.04 14:26:35</span>
<span class="c" style="right:1044px;top:350px;color:#000;font-weight:normal;transform:scaleX(0.96)">mesu20</span>
<span class="c" style="right:973.5px;top:350px;color:#000;font-weight:normal;transform:scaleX(0.899)">87960316</span>
<span class="c" style="right:914px;top:350px;color:#000;font-weight:normal;transform:scaleX(0.95)">sell</span>
<span class="c" style="right:814.4px;top:350px;color:#000;font-weight:normal;transform:scaleX(0.899)">1</span>
<span class="c" style="right:713.7px;top:350px;color:#000;font-weight:normal;transform:scaleX(0.899)">3402.25</span>
<span class="c" style="right:613.7px;top:350px;color:#000;font-weight:normal;transform:scaleX(0.899)">3404.00</span>
<span class="c" style="right:373.70000000000005px;top:350px;color:#000;font-weight:normal;transform:scaleX(0.899)">2020.09.04 14:26:51</span>
<span class="c" style="right:273.70000000000005px;top:350px;color:#000;font-weight:normal;transform:scaleX(0.899)">3400.75</span>
<span class="c" style="right:173.70000000000005px;top:350px;color:#000;font-weight:normal;transform:scaleX(0.899)">-0.74</span>
<span class="c" style="right:34.700000000000045px;top:350px;color:#0000ff;font-weight:normal;transform:scaleX(0.899)">7.50</span>
<svg class="ico" style="top:371px" width="13" height="17" viewBox="0 0 13 17"><path d="M2.5 0.5H9.5Q11.5 0.5 11.5 2.5V11L7 15.5H2.5Q0.5 15.5 0.5 13.5V2.5Q0.5 0.5 2.5 0.5Z" fill="url(#gs)" stroke="#e8532a" stroke-width="1.15"/><path d="M11.6 10.6H8.8Q7.6 10.6 7.6 11.8V15.2Z" fill="#d63c10"/><path d="M3 4.5H9.5M3 7.5H9.5" stroke="#e8532a" stroke-width="1"/></svg>
<span class="c l" style="left:24px;top:370px;color:#000;font-weight:normal;transform:scaleX(0.899)">2020.09.04 14:28:45</span>
<span class="c" style="right:1044px;top:370px;color:#000;font-weight:normal;transform:scaleX(0.96)">mesu20</span>
<span class="c" style="right:973.5px;top:370px;color:#000;font-weight:normal;transform:scaleX(0.899)">87960800</span>
<span class="c" style="right:914px;top:370px;color:#000;font-weight:normal;transform:scaleX(0.95)">sell</span>
<span class="c" style="right:814.4px;top:370px;color:#000;font-weight:normal;transform:scaleX(0.899)">1</span>
<span class="c" style="right:713.7px;top:370px;color:#000;font-weight:normal;transform:scaleX(0.899)">3400.75</span>
<span class="c" style="right:613.7px;top:370px;color:#000;font-weight:normal;transform:scaleX(0.899)">3402.75</span>
<span class="c" style="right:373.70000000000005px;top:370px;color:#000;font-weight:normal;transform:scaleX(0.899)">2020.09.04 14:28:47</span>
<span class="c" style="right:273.70000000000005px;top:370px;color:#000;font-weight:normal;transform:scaleX(0.899)">3399.25</span>
<span class="c" style="right:173.70000000000005px;top:370px;color:#000;font-weight:normal;transform:scaleX(0.899)">-0.74</span>
<span class="c" style="right:34.700000000000045px;top:370px;color:#0000ff;font-weight:normal;transform:scaleX(0.899)">7.50</span>
<svg class="ico" style="top:391px" width="13" height="17" viewBox="0 0 13 17"><path d="M2.5 0.5H9.5Q11.5 0.5 11.5 2.5V11L7 15.5H2.5Q0.5 15.5 0.5 13.5V2.5Q0.5 0.5 2.5 0.5Z" fill="url(#gs)" stroke="#e8532a" stroke-width="1.15"/><path d="M11.6 10.6H8.8Q7.6 10.6 7.6 11.8V15.2Z" fill="#d63c10"/><path d="M3 4.5H9.5M3 7.5H9.5" stroke="#e8532a" stroke-width="1"/></svg>
<span class="c l" style="left:24px;top:390px;color:#000;font-weight:normal;transform:scaleX(0.899)">2020.09.04 14:28:51</span>
<span class="c" style="right:1044px;top:390px;color:#000;font-weight:normal;transform:scaleX(0.96)">mesu20</span>
<span class="c" style="right:973.5px;top:390px;color:#000;font-weight:normal;transform:scaleX(0.899)">87960832</span>
<span class="c" style="right:914px;top:390px;color:#000;font-weight:normal;transform:scaleX(0.95)">sell</span>
<span class="c" style="right:814.4px;top:390px;color:#000;font-weight:normal;transform:scaleX(0.899)">1</span>
<span class="c" style="right:713.7px;top:390px;color:#000;font-weight:normal;transform:scaleX(0.899)">3397.25</span>
<span class="c" style="right:613.7px;top:390px;color:#000;font-weight:normal;transform:scaleX(0.899)">3399.50</span>
<span class="c" style="right:373.70000000000005px;top:390px;color:#000;font-weight:normal;transform:scaleX(0.899)">2020.09.04 14:29:18</span>
<span class="c" style="right:273.70000000000005px;top:390px;color:#000;font-weight:normal;transform:scaleX(0.899)">3395.75</span>
<span class="c" style="right:173.70000000000005px;top:390px;color:#000;font-weight:normal;transform:scaleX(0.899)">-0.74</span>
<span class="c" style="right:34.700000000000045px;top:390px;color:#0000ff;font-weight:normal;transform:scaleX(0.899)">7.50</span>
<svg class="ico" style="top:411px" width="13" height="17" viewBox="0 0 13 17"><path d="M2.5 0.5H9.5Q11.5 0.5 11.5 2.5V11L7 15.5H2.5Q0.5 15.5 0.5 13.5V2.5Q0.5 0.5 2.5 0.5Z" fill="url(#gs)" stroke="#e8532a" stroke-width="1.15"/><path d="M11.6 10.6H8.8Q7.6 10.6 7.6 11.8V15.2Z" fill="#d63c10"/><path d="M3 4.5H9.5M3 7.5H9.5" stroke="#e8532a" stroke-width="1"/></svg>
<span class="c l" style="left:24px;top:410px;color:#000;font-weight:normal;transform:scaleX(0.899)">2020.09.04 14:30:05</span>
<span class="c" style="right:1044px;top:410px;color:#000;font-weight:normal;transform:scaleX(0.96)">mesu20</span>
<span class="c" style="right:973.5px;top:410px;color:#000;font-weight:normal;transform:scaleX(0.899)">87961232</span>
<span class="c" style="right:914px;top:410px;color:#000;font-weight:normal;transform:scaleX(0.95)">sell</span>
<span class="c" style="right:814.4px;top:410px;color:#000;font-weight:normal;transform:scaleX(0.899)">1</span>
<span class="c" style="right:713.7px;top:410px;color:#000;font-weight:normal;transform:scaleX(0.899)">3392.50</span>
<span class="c" style="right:613.7px;top:410px;color:#000;font-weight:normal;transform:scaleX(0.899)">3394.25</span>
<span class="c" style="right:373.70000000000005px;top:410px;color:#000;font-weight:normal;transform:scaleX(0.899)">2020.09.04 14:30:07</span>
<span class="c" style="right:273.70000000000005px;top:410px;color:#000;font-weight:normal;transform:scaleX(0.899)">3394.25</span>
<span class="c" style="right:173.70000000000005px;top:410px;color:#000;font-weight:normal;transform:scaleX(0.899)">-0.74</span>
<span class="c" style="right:34.700000000000045px;top:410px;color:#ff0000;font-weight:normal;transform:scaleX(0.899)">-8.75</span>
<svg class="ico" style="top:431px" width="13" height="17" viewBox="0 0 13 17"><path d="M2.5 0.5H9.5Q11.5 0.5 11.5 2.5V11L7 15.5H2.5Q0.5 15.5 0.5 13.5V2.5Q0.5 0.5 2.5 0.5Z" fill="url(#gb)" stroke="#2a86c8" stroke-width="1.15"/><path d="M11.6 10.6H8.8Q7.6 10.6 7.6 11.8V15.2Z" fill="#1a6aaa"/><path d="M3 4.5H9.5M3 7.5H9.5" stroke="#2a86c8" stroke-width="1"/></svg>
<span class="c l" style="left:24px;top:430px;color:#000;font-weight:normal;transform:scaleX(0.899)">2020.09.04 14:30:09</span>
<span class="c" style="right:1044px;top:430px;color:#000;font-weight:normal;transform:scaleX(0.96)">mesu20</span>
<span class="c" style="right:973.5px;top:430px;color:#000;font-weight:normal;transform:scaleX(0.899)">87961269</span>
<span class="c" style="right:914px;top:430px;color:#000;font-weight:normal;transform:scaleX(0.95)">buy</span>
<span class="c" style="right:814.4px;top:430px;color:#000;font-weight:normal;transform:scaleX(0.899)">1</span>
<span class="c" style="right:713.7px;top:430px;color:#000;font-weight:normal;transform:scaleX(0.899)">3395.50</span>
<span class="c" style="right:613.7px;top:430px;color:#000;font-weight:normal;transform:scaleX(0.899)">3393.75</span>
<span class="c" style="right:373.70000000000005px;top:430px;color:#000;font-weight:normal;transform:scaleX(0.899)">2020.09.04 14:30:17</span>
<span class="c" style="right:273.70000000000005px;top:430px;color:#000;font-weight:normal;transform:scaleX(0.899)">3395.75</span>
<span class="c" style="right:173.70000000000005px;top:430px;color:#000;font-weight:normal;transform:scaleX(0.899)">-0.74</span>
<span class="c" style="right:34.700000000000045px;top:430px;color:#0000ff;font-weight:normal;transform:scaleX(0.899)">1.25</span>
<svg class="ico" style="top:451px" width="13" height="17" viewBox="0 0 13 17"><path d="M2.5 0.5H9.5Q11.5 0.5 11.5 2.5V11L7 15.5H2.5Q0.5 15.5 0.5 13.5V2.5Q0.5 0.5 2.5 0.5Z" fill="url(#gs)" stroke="#e8532a" stroke-width="1.15"/><path d="M11.6 10.6H8.8Q7.6 10.6 7.6 11.8V15.2Z" fill="#d63c10"/><path d="M3 4.5H9.5M3 7.5H9.5" stroke="#e8532a" stroke-width="1"/></svg>
<span class="c l" style="left:24px;top:450px;color:#000;font-weight:normal;transform:scaleX(0.899)">2020.09.04 14:31:07</span>
<span class="c" style="right:1044px;top:450px;color:#000;font-weight:normal;transform:scaleX(0.96)">mesu20</span>
<span class="c" style="right:973.5px;top:450px;color:#000;font-weight:normal;transform:scaleX(0.899)">87961562</span>
<span class="c" style="right:914px;top:450px;color:#000;font-weight:normal;transform:scaleX(0.95)">sell</span>
<span class="c" style="right:814.4px;top:450px;color:#000;font-weight:normal;transform:scaleX(0.899)">1</span>
<span class="c" style="right:713.7px;top:450px;color:#000;font-weight:normal;transform:scaleX(0.899)">3395.50</span>
<span class="c" style="right:613.7px;top:450px;color:#000;font-weight:normal;transform:scaleX(0.899)">3397.50</span>
<span class="c" style="right:373.70000000000005px;top:450px;color:#000;font-weight:normal;transform:scaleX(0.899)">2020.09.04 14:31:08</span>
<span class="c" style="right:273.70000000000005px;top:450px;color:#000;font-weight:normal;transform:scaleX(0.899)">3397.50</span>
<span class="c" style="right:173.70000000000005px;top:450px;color:#000;font-weight:normal;transform:scaleX(0.899)">-0.74</span>
<span class="c" style="right:34.700000000000045px;top:450px;color:#ff0000;font-weight:normal;transform:scaleX(0.899)">-10.00</span>
<svg class="ico" style="top:471px" width="13" height="17" viewBox="0 0 13 17"><path d="M2.5 0.5H9.5Q11.5 0.5 11.5 2.5V11L7 15.5H2.5Q0.5 15.5 0.5 13.5V2.5Q0.5 0.5 2.5 0.5Z" fill="url(#gs)" stroke="#e8532a" stroke-width="1.15"/><path d="M11.6 10.6H8.8Q7.6 10.6 7.6 11.8V15.2Z" fill="#d63c10"/><path d="M3 4.5H9.5M3 7.5H9.5" stroke="#e8532a" stroke-width="1"/></svg>
<span class="c l" style="left:24px;top:470px;color:#000;font-weight:normal;transform:scaleX(0.899)">2020.09.04 14:31:11</span>
<span class="c" style="right:1044px;top:470px;color:#000;font-weight:normal;transform:scaleX(0.96)">mesu20</span>
<span class="c" style="right:973.5px;top:470px;color:#000;font-weight:normal;transform:scaleX(0.899)">87961589</span>
<span class="c" style="right:914px;top:470px;color:#000;font-weight:normal;transform:scaleX(0.95)">sell</span>
<span class="c" style="right:814.4px;top:470px;color:#000;font-weight:normal;transform:scaleX(0.899)">1</span>
<span class="c" style="right:713.7px;top:470px;color:#000;font-weight:normal;transform:scaleX(0.899)">3398.00</span>
<span class="c" style="right:613.7px;top:470px;color:#000;font-weight:normal;transform:scaleX(0.899)">3400.00</span>
<span class="c" style="right:373.70000000000005px;top:470px;color:#000;font-weight:normal;transform:scaleX(0.899)">2020.09.04 14:31:14</span>
<span class="c" style="right:273.70000000000005px;top:470px;color:#000;font-weight:normal;transform:scaleX(0.899)">3400.25</span>
<span class="c" style="right:173.70000000000005px;top:470px;color:#000;font-weight:normal;transform:scaleX(0.899)">-0.74</span>
<span class="c" style="right:34.700000000000045px;top:470px;color:#ff0000;font-weight:normal;transform:scaleX(0.899)">-11.25</span>
<svg class="ico" style="top:491px" width="13" height="17" viewBox="0 0 13 17"><path d="M2.5 0.5H9.5Q11.5 0.5 11.5 2.5V11L7 15.5H2.5Q0.5 15.5 0.5 13.5V2.5Q0.5 0.5 2.5 0.5Z" fill="url(#gs)" stroke="#e8532a" stroke-width="1.15"/><path d="M11.6 10.6H8.8Q7.6 10.6 7.6 11.8V15.2Z" fill="#d63c10"/><path d="M3 4.5H9.5M3 7.5H9.5" stroke="#e8532a" stroke-width="1"/></svg>
<span class="c l" style="left:24px;top:490px;color:#000;font-weight:normal;transform:scaleX(0.899)">2020.09.04 14:31:28</span>
<span class="c" style="right:1044px;top:490px;color:#000;font-weight:normal;transform:scaleX(0.96)">mesu20</span>
<span class="c" style="right:973.5px;top:490px;color:#000;font-weight:normal;transform:scaleX(0.899)">87961672</span>
<span class="c" style="right:914px;top:490px;color:#000;font-weight:normal;transform:scaleX(0.95)">sell</span>
<span class="c" style="right:814.4px;top:490px;color:#000;font-weight:normal;transform:scaleX(0.899)">1</span>
<span class="c" style="right:713.7px;top:490px;color:#000;font-weight:normal;transform:scaleX(0.899)">3397.25</span>
<span class="c" style="right:613.7px;top:490px;color:#000;font-weight:normal;transform:scaleX(0.899)">3403.25</span>
<span class="c" style="right:513.7px;top:490px;color:#000;font-weight:normal;transform:scaleX(0.899)">3381.75</span>
<span class="c" style="right:373.70000000000005px;top:490px;color:#000;font-weight:normal;transform:scaleX(0.899)">2020.09.04 14:33:09</span>
<span class="c" style="right:273.70000000000005px;top:490px;color:#000;font-weight:normal;transform:scaleX(0.899)">3390.00</span>
<span class="c" style="right:173.70000000000005px;top:490px;color:#000;font-weight:normal;transform:scaleX(0.899)">-0.74</span>
<span class="c" style="right:34.700000000000045px;top:490px;color:#0000ff;font-weight:normal;transform:scaleX(0.899)">36.25</span>
<svg class="sort" width="8" height="4" viewBox="0 0 8 4"><polygon points="0,4 4,0 8,4" fill="#404040"/></svg>
<svg class="plus" width="14" height="14" viewBox="0 0 14 14"><circle cx="7" cy="7" r="5.7" fill="none" stroke="#1a1a1a" stroke-width="1.1"/><path d="M4 7H10M7 4V10" stroke="#1a1a1a" stroke-width="1.8"/></svg>
<span class="t" style="left:32.50px;top:2.71px;font:normal 9.5px/12px 'DejaVu Sans Condensed', 'DejaVu Sans', 'Liberation Sans', sans-serif;color:#000;-webkit-text-stroke:0.2px #000;transform:scaleX(0.9901)">MESU20, M10:  Micro E-mini S&amp;P 500 ($5): September 2020</span>
<span class="t" style="left:1178.50px;top:3.71px;font:normal 9.5px/12px 'DejaVu Sans Condensed', 'DejaVu Sans', 'Liberation Sans', sans-serif;color:#000;-webkit-text-stroke:0.2px #000;transform:scaleX(1.0206)">TradePanelCME.1.0</span>
<span class="t" style="left:-9.00px;top:141.71px;font:normal 9.5px/12px 'DejaVu Sans Condensed', 'DejaVu Sans', 'Liberation Sans', sans-serif;color:#000;-webkit-text-stroke:0.2px #000;transform:scaleX(0.9542)">4 Sep 2020</span>
<span class="t" style="left:55.00px;top:141.71px;font:normal 9.5px/12px 'DejaVu Sans Condensed', 'DejaVu Sans', 'Liberation Sans', sans-serif;color:#000;-webkit-text-stroke:0.2px #000;transform:scaleX(0.9591)">4 Sep 03:20</span>
<span class="t" style="left:119.00px;top:141.71px;font:normal 9.5px/12px 'DejaVu Sans Condensed', 'DejaVu Sans', 'Liberation Sans', sans-serif;color:#000;-webkit-text-stroke:0.2px #000;transform:scaleX(0.9591)">4 Sep 04:00</span>
<span class="t" style="left:183.00px;top:141.71px;font:normal 9.5px/12px 'DejaVu Sans Condensed', 'DejaVu Sans', 'Liberation Sans', sans-serif;color:#000;-webkit-text-stroke:0.2px #000;transform:scaleX(0.9591)">4 Sep 04:40</span>
<span class="t" style="left:247.00px;top:141.71px;font:normal 9.5px/12px 'DejaVu Sans Condensed', 'DejaVu Sans', 'Liberation Sans', sans-serif;color:#000;-webkit-text-stroke:0.2px #000;transform:scaleX(0.9591)">4 Sep 05:20</span>
<span class="t" style="left:311.00px;top:141.71px;font:normal 9.5px/12px 'DejaVu Sans Condensed', 'DejaVu Sans', 'Liberation Sans', sans-serif;color:#000;-webkit-text-stroke:0.2px #000;transform:scaleX(0.9591)">4 Sep 06:00</span>
<span class="t" style="left:375.00px;top:141.71px;font:normal 9.5px/12px 'DejaVu Sans Condensed', 'DejaVu Sans', 'Liberation Sans', sans-serif;color:#000;-webkit-text-stroke:0.2px #000;transform:scaleX(0.9591)">4 Sep 06:40</span>
<span class="t" style="left:439.00px;top:141.71px;font:normal 9.5px/12px 'DejaVu Sans Condensed', 'DejaVu Sans', 'Liberation Sans', sans-serif;color:#000;-webkit-text-stroke:0.2px #000;transform:scaleX(0.9591)">4 Sep 07:20</span>
<span class="t" style="left:503.00px;top:141.71px;font:normal 9.5px/12px 'DejaVu Sans Condensed', 'DejaVu Sans', 'Liberation Sans', sans-serif;color:#000;-webkit-text-stroke:0.2px #000;transform:scaleX(0.9591)">4 Sep 08:00</span>
<span class="t" style="left:567.00px;top:141.71px;font:normal 9.5px/12px 'DejaVu Sans Condensed', 'DejaVu Sans', 'Liberation Sans', sans-serif;color:#000;-webkit-text-stroke:0.2px #000;transform:scaleX(0.9591)">4 Sep 08:40</span>
<span class="t" style="left:631.00px;top:141.71px;font:normal 9.5px/12px 'DejaVu Sans Condensed', 'DejaVu Sans', 'Liberation Sans', sans-serif;color:#000;-webkit-text-stroke:0.2px #000;transform:scaleX(0.9591)">4 Sep 09:20</span>
<span class="t" style="left:695.00px;top:141.71px;font:normal 9.5px/12px 'DejaVu Sans Condensed', 'DejaVu Sans', 'Liberation Sans', sans-serif;color:#000;-webkit-text-stroke:0.2px #000;transform:scaleX(0.9591)">4 Sep 10:00</span>
<span class="t" style="left:759.00px;top:141.71px;font:normal 9.5px/12px 'DejaVu Sans Condensed', 'DejaVu Sans', 'Liberation Sans', sans-serif;color:#000;-webkit-text-stroke:0.2px #000;transform:scaleX(0.9591)">4 Sep 10:40</span>
<span class="t" style="left:823.00px;top:141.71px;font:normal 9.5px/12px 'DejaVu Sans Condensed', 'DejaVu Sans', 'Liberation Sans', sans-serif;color:#000;-webkit-text-stroke:0.2px #000;transform:scaleX(0.9591)">4 Sep 11:20</span>
<span class="t" style="left:887.00px;top:141.71px;font:normal 9.5px/12px 'DejaVu Sans Condensed', 'DejaVu Sans', 'Liberation Sans', sans-serif;color:#000;-webkit-text-stroke:0.2px #000;transform:scaleX(0.9591)">4 Sep 12:00</span>
<span class="t" style="left:951.00px;top:141.71px;font:normal 9.5px/12px 'DejaVu Sans Condensed', 'DejaVu Sans', 'Liberation Sans', sans-serif;color:#000;-webkit-text-stroke:0.2px #000;transform:scaleX(0.9591)">4 Sep 12:40</span>
<span class="t" style="left:1015.00px;top:141.71px;font:normal 9.5px/12px 'DejaVu Sans Condensed', 'DejaVu Sans', 'Liberation Sans', sans-serif;color:#000;-webkit-text-stroke:0.2px #000;transform:scaleX(0.9591)">4 Sep 13:20</span>
<span class="t" style="left:1079.00px;top:141.71px;font:normal 9.5px/12px 'DejaVu Sans Condensed', 'DejaVu Sans', 'Liberation Sans', sans-serif;color:#000;-webkit-text-stroke:0.2px #000;transform:scaleX(0.9591)">4 Sep 14:00</span>
<span class="t" style="left:67.50px;top:27.07px;font:normal 7px/9px 'Liberation Sans', sans-serif;color:#6a6a6a;-webkit-text-stroke:0.2px currentColor;transform:scaleX(0.9508)">ТАЙМЕР</span>
<span class="t" style="left:170.50px;top:25.54px;font:normal 10px/13px 'Liberation Sans', sans-serif;color:#000;-webkit-text-stroke:0.2px currentColor;transform:scaleX(1.1991)">X</span>
<span class="t" style="left:29.10px;top:47.45px;font:normal 14px/18px 'Liberation Sans', sans-serif;color:#000;-webkit-text-stroke:0.2px currentColor;transform:scaleX(0.9394)">00:06:02</span>
<span class="t" style="left:116.80px;top:47.45px;font:normal 14px/18px 'Liberation Sans', sans-serif;color:#000;-webkit-text-stroke:0.2px currentColor;transform:scaleX(0.9352)">MESU20</span>
<span class="t" style="left:24.00px;top:80.45px;font:normal 14px/18px 'Liberation Sans', sans-serif;color:#000;-webkit-text-stroke:0.2px currentColor;transform:scaleX(0.9381)">Buy MRKT</span>
<span class="t" style="left:112.50px;top:80.45px;font:normal 14px/18px 'Liberation Sans', sans-serif;color:#000;-webkit-text-stroke:0.2px currentColor;transform:scaleX(0.9416)">Sell MRKT</span>
<span class="t" style="left:27.00px;top:115.45px;font:normal 14px/18px 'Liberation Sans', sans-serif;color:#000;-webkit-text-stroke:0.2px currentColor;transform:scaleX(0.9170)">Buy LIMIT</span>
<span class="t" style="left:115.50px;top:115.45px;font:normal 14px/18px 'Liberation Sans', sans-serif;color:#000;-webkit-text-stroke:0.2px currentColor;transform:scaleX(0.8966)">Sell LIMIT</span>
<span class="t" style="left:2.00px;top:162.84px;font:normal 12px/16px 'Liberation Sans', sans-serif;color:#000;-webkit-text-stroke:0.2px currentColor;transform:scaleX(0.9250)">MESU20,M10</span>
<span class="t" style="left:94.00px;top:162.84px;font:normal 12px/16px 'Liberation Sans', sans-serif;color:#7a7a7a;-webkit-text-stroke:0.2px currentColor;transform:scaleX(0.9237)">MESU20,M1</span>
<span class="t" style="left:179.50px;top:162.84px;font:normal 12px/16px 'Liberation Sans', sans-serif;color:#7a7a7a;-webkit-text-stroke:0.2px currentColor;transform:scaleX(0.9099)">EPU20,M1</span>
<span class="t" style="left:257.00px;top:162.84px;font:normal 12px/16px 'Liberation Sans', sans-serif;color:#7a7a7a;-webkit-text-stroke:0.2px currentColor;transform:scaleX(0.9047)">EPU20,M1</span>
<span class="t" style="left:9.00px;top:189.84px;font:normal 12px/16px 'Liberation Sans', sans-serif;color:#000;-webkit-text-stroke:0.2px currentColor;transform:scaleX(0.9693)">Время</span>
<span class="t" style="left:172.50px;top:189.84px;font:normal 12px/16px 'Liberation Sans', sans-serif;color:#000;-webkit-text-stroke:0.2px currentColor;transform:scaleX(1.0282)">Символ</span>
<span class="t" style="left:256.80px;top:189.84px;font:normal 12px/16px 'Liberation Sans', sans-serif;color:#000;-webkit-text-stroke:0.2px currentColor;transform:scaleX(0.9846)">Тикет</span>
<span class="t" style="left:326.50px;top:189.84px;font:normal 12px/16px 'Liberation Sans', sans-serif;color:#000;-webkit-text-stroke:0.2px currentColor;transform:scaleX(1.0242)">Тип</span>
<span class="t" style="left:409.30px;top:189.84px;font:normal 12px/16px 'Liberation Sans', sans-serif;color:#000;-webkit-text-stroke:0.2px currentColor;transform:scaleX(0.9860)">Объем</span>
<span class="t" style="left:518.90px;top:189.84px;font:normal 12px/16px 'Liberation Sans', sans-serif;color:#000;-webkit-text-stroke:0.2px currentColor;transform:scaleX(0.9564)">Цена</span>
<span class="t" style="left:623.50px;top:189.84px;font:normal 12px/16px 'Liberation Sans', sans-serif;color:#000;-webkit-text-stroke:0.2px currentColor;transform:scaleX(0.9722)">S / L</span>
<span class="t" style="left:723.00px;top:189.84px;font:normal 12px/16px 'Liberation Sans', sans-serif;color:#000;-webkit-text-stroke:0.2px currentColor;transform:scaleX(0.9552)">T / P</span>
<span class="t" style="left:852.00px;top:189.84px;font:normal 12px/16px 'Liberation Sans', sans-serif;color:#000;-webkit-text-stroke:0.2px currentColor;transform:scaleX(0.9693)">Время</span>
<span class="t" style="left:958.90px;top:189.84px;font:normal 12px/16px 'Liberation Sans', sans-serif;color:#000;-webkit-text-stroke:0.2px currentColor;transform:scaleX(0.9564)">Цена</span>
<span class="t" style="left:1032.00px;top:189.84px;font:normal 12px/16px 'Liberation Sans', sans-serif;color:#000;-webkit-text-stroke:0.2px currentColor;transform:scaleX(1.0218)">Комиссия</span>
<span class="t" style="left:1173.90px;top:189.84px;font:normal 12px/16px 'Liberation Sans', sans-serif;color:#000;-webkit-text-stroke:0.2px currentColor;transform:scaleX(1.0283)">Прибыль</span>
<span class="t" style="left:23.90px;top:511.84px;font:bold 12px/16px 'Liberation Sans', sans-serif;color:#000;-webkit-text-stroke:0.2px currentColor;transform:scaleX(0.9865)">Прибыль: 28.69</span>
<span class="t" style="left:122.00px;top:511.84px;font:bold 12px/16px 'Liberation Sans', sans-serif;color:#000;-webkit-text-stroke:0.2px currentColor;transform:scaleX(0.9809)">Кредит: 0.00</span>
<span class="t" style="left:199.50px;top:511.84px;font:bold 12px/16px 'Liberation Sans', sans-serif;color:#000;-webkit-text-stroke:0.2px currentColor;transform:scaleX(0.9912)">Депозит: 0.00</span>
<span class="t" style="left:284.50px;top:511.84px;font:bold 12px/16px 'Liberation Sans', sans-serif;color:#000;-webkit-text-stroke:0.2px currentColor;transform:scaleX(0.9656)">Снятие: 0.00</span>
<span class="t" style="left:362.00px;top:511.84px;font:bold 12px/16px 'Liberation Sans', sans-serif;color:#000;-webkit-text-stroke:0.2px currentColor;transform:scaleX(0.9457)">Баланс: 28.69</span>
<span class="t" style="left:1053.50px;top:511.84px;font:bold 12px/16px 'Liberation Sans', sans-serif;color:#000;-webkit-text-stroke:0.2px currentColor;transform:scaleX(1.0579)">-32.56</span>
<span class="t" style="left:1196.50px;top:511.84px;font:bold 12px/16px 'Liberation Sans', sans-serif;color:#000;-webkit-text-stroke:0.2px currentColor;transform:scaleX(1.0489)">61.25</span>
</body></html>
